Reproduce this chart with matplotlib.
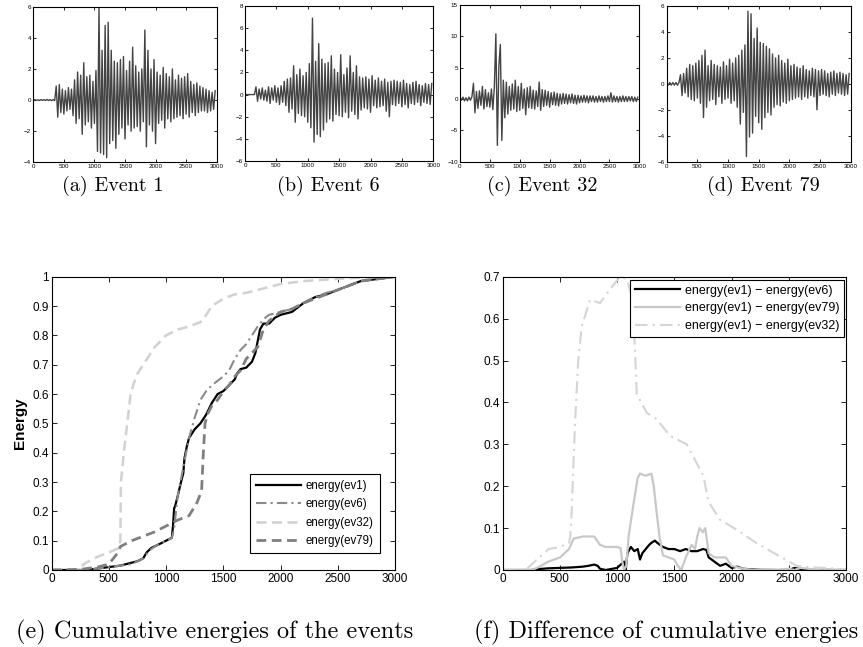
import numpy as np
import matplotlib
matplotlib.use("Agg")
import matplotlib.pyplot as plt

# ---------------- data ----------------
STEP = 25  # sample spacing of the digitised waveforms

EV1_WAVE = [0, 0.03, -0.03, 0.02, -0.03, 0.03, -0.02, 0.03, -0.03, 0.04, -0.03, 0.03, -0.04, 0.03, -0.03,
            0.9, -1.1, 1.0, -0.8, 0.7, -0.9, 0.6, -0.7, 0.8, -0.6, 0.7, -1.0, 1.3, -1.5, 1.8,
            -1.2, 1.6, -2.2, 2.4, -1.6, 1.5, -1.4, 1.6, -1.8, 1.2, -1.5, 1.9, -3.3, 5.9, -3.4,
            3.2, -3.5, 4.8, -3.7, 5.0, -2.8, 3.2, -2.6, 2.5, -3.1, 2.4, -2.2, 2.6, -1.8, 2.8,
            -2.5, 1.9, -1.6, 2.5, -2.0, 3.4, -1.8, 2.2, -1.7, 1.8, -2.0, 2.0, -1.4, 4.5, -3.0,
            3.2, -1.6, 2.0, -2.0, 2.6, -2.8, 1.8, -1.5, 1.6, -1.3, 2.1, -1.8, 1.7, -1.2, 1.5,
            -1.4, 2.0, -1.2, 1.3, -1.1, 1.6, -1.0, 1.4, -1.2, 1.5, -0.9, 1.7, -1.1, 1.2, -0.8,
            1.0, -1.0, 1.1, -0.8, 0.9, -0.7, 0.8, -0.7, 0.7, -0.8, 0.6, -0.7, 0.5, -0.6, 0.6]

EV6_WAVE = [0, 0, 0, 0, 0, 0, 0,
            0.7, -0.6, 0.5, -0.4, 0.6, -0.5, 0.4, -0.6, 0.7, -0.8, 0.6, -0.5, 0.8, -0.7, 0.6,
            -0.9, 0.8, -0.7, 1.2, -1.0, 1.4, -1.6, 1.5, -1.3, 2.6, -2.5, 1.8, -1.7, 2.3, -1.9,
            1.7, -2.0, 2.0, -2.5, 2.8, -3.0, 6.9, -4.3, 3.0, -3.6, 4.6, -3.8, 3.2, -3.2, 2.8,
            -2.5, 2.9, -2.2, 3.5, -2.4, 2.3, -1.8, 2.0, -1.9, 3.6, -2.0, 1.8, -1.6, 2.4, -2.1,
            3.5, -1.5, 2.0, -1.8, 2.6, -2.2, 1.6, -1.4, 1.5, -1.2, 1.6, -1.3, 1.4, -1.6, 1.7,
            -1.0, 1.3, -1.2, 1.5, -1.1, 1.2, -1.0, 1.4, -1.5, 1.1, -2.0, 1.2, -0.9, 1.3, -1.0,
            1.2, -0.8, 1.1, -1.1, 1.3, -0.9, 1.0, -1.2, 0.9, -0.8, 1.1, -0.9, 1.2, -0.7, 0.9,
            -1.0, 0.8, -0.7, 1.0, -0.8, 0.9, -0.9, 1.0]

EV32_WAVE = [0.3, -0.2, 0.3, -0.3, 0.2, -0.3, 0.3, -0.2, 0.4, 2.5, -2.2, 1.2, -1.5, 1.3, -1.0,
             2.0, -1.6, 1.5, -1.2, 1.0, -1.3, 1.6, -1.7, 2.0, 10.4, -7.4, 5.2, 8.7, -6.6, 3.0,
             -3.0, 2.7, -2.4, 2.0, -1.8, 2.4, -1.6, 3.0, -2.0, 2.0, -1.8, 2.5, -1.5, 1.6, -2.5,
             1.8, -1.4, 2.0, -1.5, 1.4, -1.6, 1.3, -1.2, 2.7, -1.8, 1.5, -1.2, 1.4, -1.0, 1.2,
             -1.3, 1.0, -0.9, 1.1, -1.0, 0.9, -1.1, 0.8, -0.8, 0.9, -0.7, 0.8, -0.8, 0.7, -0.6,
             0.8, -0.7, 0.6, -0.8, 0.6, -0.6, 0.5, -0.5, 0.6, -0.5, 0.5, -0.6, 0.5, -0.4, 0.5,
             -0.5, 0.4, -0.5, 0.5, -0.4, 0.4, -0.5, 0.4, -0.4, 0.5, -0.4, 1.0, -0.5, 0.5, -0.4,
             0.4, -0.5, 0.4, -0.4, 0.5, -0.4, 0.4, -0.4, 0.4, -0.3, 0.4, -0.4, 0.3, -0.4, 0.3]

EV79_WAVE = [0.1, -0.1, 0.1, -0.1, 0.1, -0.1, 0.1, -0.1, 0.1, 0.7, -0.9, 0.8, -0.7, 1.2, -1.0,
             1.5, -1.2, 1.4, -1.3, 1.6, -1.1, 1.8, -1.5, 2.2, -2.6, 2.6, -1.8, 1.4, -1.3, 1.8,
             -1.2, 1.5, -1.6, 1.4, -1.0, 1.3, -1.5, 1.7, -1.2, 1.4, -1.1, 1.9, -1.5, 1.6, -1.3,
             2.0, -1.8, 2.2, -3.1, 2.6, -2.2, 3.0, -5.6, 5.6, -4.1, 5.4, -3.8, 3.5, -2.5, 4.3,
             -3.0, 3.2, -3.5, 3.1, -2.6, 2.9, -2.2, 2.7, -2.4, 2.3, -1.8, 2.0, -1.6, 2.2, -1.7,
             1.8, -1.4, 1.6, -1.5, 1.9, -1.3, 1.4, -1.2, 1.5, -1.1, 1.3, -1.0, 1.2, -1.2, 1.4,
             -1.0, 1.1, -1.1, 1.0, -0.9, 1.2, -1.0, 1.1, -2.0, 1.0, -0.9, 1.1, -0.8, 1.0, -0.9,
             0.8, -1.0, 0.9, -0.8, 1.0, -0.9, 0.8, -0.7, 0.9, -0.8, 0.8, -0.9, 0.7, -0.8, 0.8]

WAVES = [EV1_WAVE, EV6_WAVE, EV32_WAVE, EV79_WAVE]
WAVE_YLIMS = [(-4, 6), (-6, 8), (-10, 15), (-6, 6)]
WAVE_YTICKS = [[-4, -2, 0, 2, 4, 6], [-6, -4, -2, 0, 2, 4, 6, 8],
               [-10, -5, 0, 5, 10, 15], [-6, -4, -2, 0, 2, 4, 6]]
WAVE_CAPTIONS = ["(a) Event 1", "(b) Event 6", "(c) Event 32", "(d) Event 79"]

# cumulative energies
E1_X = [0, 300, 400, 500, 600, 700, 750, 800, 830, 870, 950, 1000, 1050, 1060, 1070, 1080, 1100, 1130,
        1150, 1160, 1180, 1200, 1250, 1300, 1350, 1400, 1450, 1500, 1550, 1600, 1620, 1650, 1700, 1750,
        1780, 1800, 1820, 1850, 1900, 1950, 2000, 2100, 2200, 2300, 2400, 2500, 2600, 2700, 2800, 2900, 3000]
E1_Y = [0, 0, 0.005, 0.01, 0.015, 0.025, 0.03, 0.04, 0.06, 0.075, 0.09, 0.1, 0.11, 0.15, 0.21, 0.22, 0.25, 0.3,
        0.33, 0.38, 0.42, 0.45, 0.48, 0.5, 0.53, 0.57, 0.6, 0.61, 0.63, 0.65, 0.67, 0.685, 0.69, 0.71,
        0.74, 0.78, 0.82, 0.84, 0.84, 0.86, 0.87, 0.88, 0.91, 0.93, 0.94, 0.955, 0.97, 0.985, 0.99, 0.995, 1.0]

E6_X = [0, 300, 400, 500, 600, 700, 800, 850, 900, 1000, 1050, 1070, 1100, 1150, 1200, 1250, 1300, 1350,
        1400, 1500, 1550, 1600, 1650, 1700, 1750, 1800, 1850, 1900, 2000, 2100, 2200, 2300, 2400, 2500,
        2600, 2700, 2800, 3000]
E6_Y = [0, 0, 0.005, 0.01, 0.015, 0.02, 0.04, 0.065, 0.08, 0.1, 0.11, 0.14, 0.25, 0.35, 0.45, 0.52, 0.58, 0.61,
        0.63, 0.66, 0.68, 0.72, 0.75, 0.77, 0.8, 0.83, 0.855, 0.87, 0.88, 0.89, 0.91, 0.93, 0.945, 0.955,
        0.97, 0.985, 0.99, 1.0]

E32_X = [0, 200, 250, 300, 400, 500, 590, 600, 605, 630, 660, 690, 720, 750, 800, 850, 900, 950, 1000, 1050,
         1100, 1150, 1200, 1300, 1350, 1400, 1500, 1600, 1700, 1800, 1900, 2000, 2200, 2400, 2600, 2800, 3000]
E32_Y = [0, 0, 0.01, 0.025, 0.045, 0.06, 0.075, 0.1, 0.3, 0.4, 0.5, 0.6, 0.64, 0.67, 0.7, 0.73, 0.76, 0.78,
         0.8, 0.81, 0.82, 0.825, 0.83, 0.845, 0.87, 0.9, 0.925, 0.94, 0.945, 0.955, 0.965, 0.975, 0.985,
         0.99, 0.995, 0.998, 1.0]

E79_X = [0, 250, 400, 500, 580, 600, 700, 800, 900, 1000, 1100, 1200, 1270, 1310, 1325, 1340, 1360, 1400,
         1450, 1500, 1550, 1600, 1650, 1700, 1750, 1800, 1850, 1900, 2000, 2100, 2200, 2300, 2400, 2500,
         2600, 2700, 2800, 3000]
E79_Y = [0, 0.002, 0.01, 0.02, 0.06, 0.08, 0.1, 0.115, 0.13, 0.15, 0.17, 0.185, 0.23, 0.27, 0.4, 0.5, 0.53,
         0.56, 0.58, 0.61, 0.63, 0.66, 0.68, 0.72, 0.74, 0.76, 0.82, 0.85, 0.88, 0.89, 0.91, 0.925, 0.94,
         0.955, 0.97, 0.985, 0.99, 1.0]

# differences of cumulative energies
D6_X = [0, 250, 300, 400, 500, 600, 700, 750, 800, 830, 850, 900, 1000, 1040, 1060, 1075, 1090, 1120, 1150,
        1180, 1200, 1220, 1250, 1280, 1300, 1330, 1350, 1400, 1450, 1500, 1550, 1600, 1650, 1700, 1750,
        1780, 1800, 1850, 1900, 1950, 2000, 2050, 2100, 2200, 2300, 2500, 2550, 2600, 2700, 2800, 3000]
D6_Y = [0, 0, 0.002, 0.004, 0.005, 0.006, 0.008, 0.01, 0.013, 0.01, 0.003, 0.0, 0.005, 0.015, 0.02, 0.0,
        0.04, 0.055, 0.045, 0.05, 0.025, 0.04, 0.05, 0.06, 0.065, 0.07, 0.065, 0.055, 0.05, 0.05, 0.045,
        0.05, 0.045, 0.045, 0.05, 0.048, 0.03, 0.02, 0.01, 0.015, 0.005, 0.008, 0.003, 0.001, 0.0, 0.0,
        0.005, 0.002, 0.0, 0.0, 0.0]

D79_X = [0, 250, 300, 400, 500, 580, 620, 700, 800, 850, 900, 1000, 1030, 1045, 1060, 1080, 1100, 1150,
         1180, 1200, 1250, 1300, 1320, 1340, 1370, 1400, 1450, 1500, 1530, 1560, 1600, 1650, 1680, 1700,
         1720, 1750, 1770, 1800, 1850, 1900, 1950, 2000, 2100, 2200, 2300, 2400, 2500, 2550, 2600, 2700,
         2800, 2900, 3000]
D79_Y = [0, 0, 0.005, 0.02, 0.03, 0.05, 0.075, 0.08, 0.08, 0.06, 0.055, 0.055, 0.052, 0.02, 0.0, 0.01,
         0.08, 0.17, 0.22, 0.23, 0.225, 0.23, 0.2, 0.15, 0.08, 0.035, 0.03, 0.025, 0.01, 0.0, 0.03, 0.06,
         0.05, 0.08, 0.1, 0.09, 0.1, 0.04, 0.03, 0.03, 0.03, 0.01, 0.003, 0.0, 0.002, 0.0, 0.003, 0.0,
         0.005, 0.002, 0.003, 0.0, 0.0]

D32_X = [0, 200, 300, 400, 500, 580, 590, 600, 632, 660, 690, 763, 850, 938, 1026, 1084, 1120, 1142, 1157,
         1171, 1259, 1346, 1463, 1608, 1695, 1754, 1798, 1899, 2045, 2220, 2424, 2570, 2700, 2900, 3000]
D32_Y = [0, 0, 0.025, 0.05, 0.055, 0.065, 0.08, 0.12, 0.35, 0.5, 0.58, 0.645, 0.637, 0.67, 0.7, 0.695,
         0.66, 0.6, 0.52, 0.42, 0.375, 0.36, 0.32, 0.3, 0.255, 0.225, 0.163, 0.12, 0.096, 0.064, 0.032,
         0.01, 0.006, 0.004, 0.0]

# ---------------- figure ----------------
W, H = 863, 647
fig = plt.figure(figsize=(W / 100, H / 100), dpi=100)
SANS = ["Liberation Sans", "DejaVu Sans"]
SERIF = ["cmr10", "DejaVu Serif"]
plt.rcParams["font.family"] = SANS
plt.rcParams["axes.unicode_minus"] = True


def px_axes(left, top, right, bottom):
    return fig.add_axes([left / W, 1 - bottom / H, (right - left) / W, (bottom - top) / H])


def style(ax, fs, ticklen):
    ax.tick_params(direction="in", top=True, right=True, labelsize=fs, length=ticklen,
                   width=0.6, pad=2, colors="black")
    for s in ax.spines.values():
        s.set_linewidth(0.8)
        s.set_color("black")


top_boxes = [(33.3, 6.7, 216.7, 162.3), (245, 6, 433.3, 161), (460, 5, 639.3, 161.7), (666.7, 6, 850.7, 161.7)]
cap_x = [113, 328, 542, 763]
for k in range(4):
    ax = px_axes(*top_boxes[k])
    y = WAVES[k]
    x = np.arange(len(y)) * STEP
    ax.plot(x, y, color="#444444", lw=1.0)
    ax.set_xlim(0, 3000)
    ax.set_ylim(*WAVE_YLIMS[k])
    ax.set_xticks([0, 500, 1000, 1500, 2000, 2500, 3000])
    ax.set_yticks(WAVE_YTICKS[k])
    style(ax, 4.5, 2)
    ax.tick_params(pad=1.5)
    fig.text(cap_x[k] / W, 1 - 186 / H, WAVE_CAPTIONS[k], family=SERIF, fontsize=14.5,
             ha="center", va="center")

# (e) cumulative energies
ax = px_axes(51.7, 276.7, 395, 570)
ax.plot(E1_X, E1_Y, color="black", lw=1.6, label="energy(ev1)")
ax.plot(E6_X, E6_Y, color="#8a8a8a", lw=1.5, dashes=(5, 2, 1, 2), label="energy(ev6)")
ax.plot(E32_X, E32_Y, color="#d4d0cb", lw=1.8, dashes=(4, 2.2), label="energy(ev32)")
ax.plot(E79_X, E79_Y, color="#7f7f7f", lw=2.0, dashes=(3.5, 2), label="energy(ev79)")
ax.set_xlim(0, 3000)
ax.set_ylim(0, 1)
ax.set_xticks([0, 500, 1000, 1500, 2000, 2500, 3000])
ax.set_yticks(np.arange(0, 1.01, 0.1))
ax.set_yticklabels(["0", "0.1", "0.2", "0.3", "0.4", "0.5", "0.6", "0.7", "0.8", "0.9", "1"])
style(ax, 8.5, 3.5)
ax.set_ylabel("Energy", fontsize=11, fontweight="bold", labelpad=4)
leg = ax.legend(loc="lower right", bbox_to_anchor=(0.955, 0.057), fontsize=8.3, handlelength=3.9,
                frameon=True, fancybox=False, edgecolor="black", framealpha=1,
                borderpad=0.55, labelspacing=0.55, handletextpad=0.35, borderaxespad=0)
leg.get_frame().set_linewidth(0.8)
fig.text(215 / W, 1 - 632 / H, "(e) Cumulative energies of the events", family=SERIF, fontsize=17.5,
         ha="center", va="center")

# (f) differences
ax = px_axes(502.7, 276.7, 846, 570)
ax.plot(D6_X, D6_Y, color="black", lw=1.6, label="energy(ev1) \u2212 energy(ev6)")
ax.plot(D79_X, D79_Y, color="#c8c8c8", lw=1.6, label="energy(ev1) \u2212 energy(ev79)")
ax.plot(D32_X, D32_Y, color="#d8d4cf", lw=1.5, dashes=(6, 2.5, 1, 2.5), label="energy(ev1) \u2212 energy(ev32)")
ax.set_xlim(0, 3000)
ax.set_ylim(0, 0.7)
ax.set_xticks([0, 500, 1000, 1500, 2000, 2500, 3000])
ax.set_yticks(np.arange(0, 0.71, 0.1))
ax.set_yticklabels(["0", "0.1", "0.2", "0.3", "0.4", "0.5", "0.6", "0.7"])
style(ax, 8.5, 3.5)
leg = ax.legend(loc="upper right", bbox_to_anchor=(0.995, 0.99), fontsize=9, handlelength=3.6,
                frameon=True, fancybox=False, edgecolor="black", framealpha=1,
                borderpad=0.4, labelspacing=0.45, handletextpad=0.35, borderaxespad=0)
leg.get_frame().set_linewidth(0.8)
fig.text(666 / W, 1 - 632 / H, "(f) Difference of cumulative energies", family=SERIF, fontsize=17.5,
         ha="center", va="center")

fig.savefig("out.png", dpi=100)
